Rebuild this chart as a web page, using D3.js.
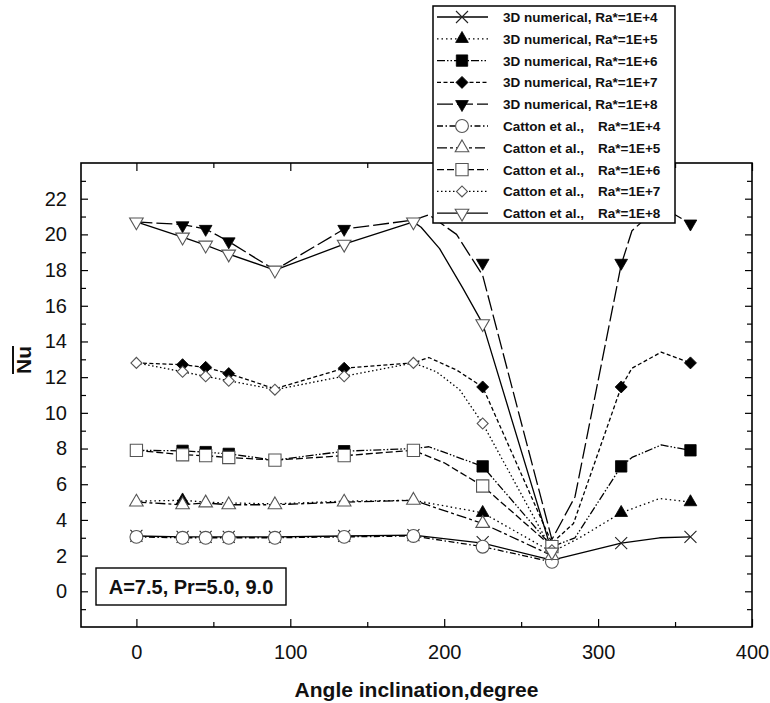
<!DOCTYPE html>
<html><head><meta charset="utf-8">
<script src="https://cdn.jsdelivr.net/npm/d3@7"></script>
<style>body{margin:0;background:#fff}svg{display:block;font-family:"Liberation Sans",Arial,sans-serif}</style>
</head><body><svg id="c" width="770" height="703"></svg>
<script>
// ---------- data ----------
const legendPrefix = ["3D numerical,","3D numerical,","3D numerical,","3D numerical,","3D numerical,",
  "Catton et al.,","Catton et al.,","Catton et al.,","Catton et al.,","Catton et al.,"];
const legendRa = ["Ra*=1E+4","Ra*=1E+5","Ra*=1E+6","Ra*=1E+7","Ra*=1E+8",
  "Ra*=1E+4","Ra*=1E+5","Ra*=1E+6","Ra*=1E+7","Ra*=1E+8"];
const xTicks = [0,100,200,300,400];
const yTicks = [0,2,4,6,8,10,12,14,16,18,20,22];

// 3D numerical lines
const num4Ang = [0,30,45,60,90,135,180,225,270,315,340,360];
const num4Nu  = [3.1,3.05,3.05,3.05,3.05,3.1,3.15,2.7,1.75,2.7,3.0,3.05];
const num5Ang = [0,30,45,60,90,135,180,225,270,288,315,340,360];
const num5Nu  = [5.05,5.1,5.0,4.95,4.9,5.05,5.1,4.4,2.2,3.0,4.4,5.2,5.0];
const num6Ang = [0,30,45,60,90,135,180,190,225,270,285,315,322,341,360];
const num6Nu  = [7.9,7.87,7.8,7.7,7.35,7.85,8.0,8.1,7.0,2.5,3.0,7.0,7.5,8.2,7.9];
const num7Ang = [0,30,45,60,90,135,180,190,208,225,270,284,315,322,341,360];
const num7Nu  = [12.8,12.7,12.55,12.2,11.35,12.5,12.8,13.1,12.4,11.45,2.7,3.8,11.45,12.5,13.4,12.8];
const num8Ang = [0,30,45,60,90,135,180,190,208,225,270,285,315,322,340,360];
const num8Nu  = [20.7,20.55,20.3,19.6,18.0,20.3,20.8,21.1,20.0,17.7,2.9,5.3,18.3,20.2,21.6,20.6];
// 3D numerical markers
const num4MkAng = [0,30,45,60,90,135,180,225,315,360];
const num4MkNu  = [3.1,3.05,3.05,3.05,3.05,3.1,3.15,2.75,2.7,3.05];
const num5MkAng = [30,225,315,360];
const num5MkNu  = [5.1,4.4,4.4,5.0];
const num6MkAng = [30,45,60,135,225,315,360];
const num6MkNu  = [7.87,7.8,7.7,7.85,7.0,7.0,7.9];
const num7MkAng = [30,45,60,135,225,315,360];
const num7MkNu  = [12.7,12.55,12.2,12.5,11.45,11.45,12.8];
const num8MkAng = [30,45,60,135,225,315,360];
const num8MkNu  = [20.5,20.3,19.6,20.3,18.4,18.4,20.6];

// Catton et al. lines
const cat4Ang = [0,30,45,60,90,135,180,225,270];
const cat4Nu  = [3.05,3.0,3.0,3.0,3.0,3.05,3.1,2.5,1.65];
const cat5Ang = [0,30,45,60,90,135,180,225,270];
const cat5Nu  = [5.0,4.85,4.95,4.85,4.85,5.0,5.1,3.8,2.0];
const cat6Ang = [0,30,45,60,90,135,180,200,225,270];
const cat6Nu  = [7.9,7.65,7.6,7.5,7.35,7.6,7.9,7.2,5.9,2.5];
const cat7Ang = [0,30,45,60,90,135,180,195,210,225,270];
const cat7Nu  = [12.8,12.3,12.05,11.8,11.3,12.05,12.8,12.3,11.3,9.4,2.3];
const cat8Ang = [0,30,45,60,90,135,180,185,197,212,225,270];
const cat8Nu  = [20.7,19.85,19.4,18.9,18.0,19.45,20.7,20.4,19.2,17.0,15.0,2.2];
// Catton markers
const catMkAng = [0,30,45,60,90,135,180,225,270];
const cat4MkNu = [3.05,3.0,3.0,3.0,3.0,3.05,3.1,2.5,1.65];
const cat5MkNu = [5.0,4.85,4.95,4.85,4.85,5.0,5.1,3.8,2.0];
const cat6MkNu = [7.9,7.65,7.6,7.5,7.35,7.6,7.9,5.9,2.5];
const cat7MkNu = [12.8,12.3,12.05,11.8,11.3,12.05,12.8,9.4,2.3];
const cat8MkNu = [20.7,19.85,19.4,18.9,18.0,19.45,20.7,15.0,2.2];

// ---------- styles ----------
const dashes = ["", "1.5,3", "8,2,1.5,2,1.5,2", "4,2.5", "16,4",
                "6,2.5,1.5,2.5", "10,3,3,3", "7,3", "1.5,2.5", ""];
const markerTypes = ["x","triUpF","squareF","diamondF","triDownF",
                     "circleO","triUpO","squareO","diamondO","triDownO"];

const series = [
  {ang:num4Ang,nu:num4Nu,mA:num4MkAng,mN:num4MkNu},
  {ang:num5Ang,nu:num5Nu,mA:num5MkAng,mN:num5MkNu},
  {ang:num6Ang,nu:num6Nu,mA:num6MkAng,mN:num6MkNu},
  {ang:num7Ang,nu:num7Nu,mA:num7MkAng,mN:num7MkNu},
  {ang:num8Ang,nu:num8Nu,mA:num8MkAng,mN:num8MkNu},
  {ang:cat4Ang,nu:cat4Nu,mA:catMkAng,mN:cat4MkNu},
  {ang:cat5Ang,nu:cat5Nu,mA:catMkAng,mN:cat5MkNu},
  {ang:cat6Ang,nu:cat6Nu,mA:catMkAng,mN:cat6MkNu},
  {ang:cat7Ang,nu:cat7Nu,mA:catMkAng,mN:cat7MkNu},
  {ang:cat8Ang,nu:cat8Nu,mA:catMkAng,mN:cat8MkNu}
];

// ---------- layout ----------
const svg = d3.select("#c");
const L = 81, R = 752, T = 163, B = 627;
const x = d3.scaleLinear().domain([-36,400]).range([L,R]);
const y = d3.scaleLinear().domain([-2,24]).range([B,T]);

// ticks (inward)
const g = svg.append("g");
function tickAxis(axisFn, scale, vals, size, pos, labels){
  const a = axisFn(scale).tickValues(vals).tickSize(-size).tickPadding(14)
    .tickFormat(labels ? d3.format("d") : "");
  const gg = g.append("g").attr("transform", pos).call(a);
  gg.select(".domain").remove();
  gg.selectAll("line").attr("stroke","#000").attr("stroke-width",1.2);
  gg.selectAll("text").attr("font-size",20).attr("fill","#111")
    .attr("font-family",'"Liberation Sans",Arial,sans-serif');
  return gg;
}
const xMinor = [50,150,250,350];
const yMinor = d3.range(-1,24,2);
tickAxis(d3.axisBottom, x, xTicks, 8, `translate(0,${B})`, true)
  .selectAll("text").attr("dy","0.71em").attr("y",18);
tickAxis(d3.axisBottom, x, xMinor, 5, `translate(0,${B})`, false);
tickAxis(d3.axisTop, x, xTicks, 8, `translate(0,${T})`, false);
tickAxis(d3.axisTop, x, xMinor, 5, `translate(0,${T})`, false);
tickAxis(d3.axisLeft, y, yTicks, 7, `translate(${L},0)`, true);
tickAxis(d3.axisLeft, y, yMinor, 5, `translate(${L},0)`, false);
tickAxis(d3.axisRight, y, yTicks, 7, `translate(${R},0)`, false);
tickAxis(d3.axisRight, y, yMinor, 5, `translate(${R},0)`, false);

svg.append("rect").attr("x",L).attr("y",T).attr("width",R-L).attr("height",B-T)
  .attr("fill","none").attr("stroke","#000").attr("stroke-width",1.6);

// axis titles
svg.append("text").attr("x",(L+R)/2).attr("y",697).attr("text-anchor","middle")
  .attr("font-size",21).attr("font-weight","bold").attr("fill","#111")
  .text("Angle inclination,degree");
const yt = svg.append("g").attr("transform","translate(31,360) rotate(-90)");
yt.append("text").attr("x",0).attr("y",0).attr("text-anchor","middle")
  .attr("font-size",21).attr("font-weight","bold").attr("fill","#111").text("Nu");
yt.append("line").attr("x1",-14).attr("x2",14).attr("y1",-18).attr("y2",-18)
  .attr("stroke","#111").attr("stroke-width",2);

// lines
const line = d3.line().x(d=>x(d[0])).y(d=>y(d[1]));
const lg = svg.append("g");
series.forEach((s,i)=>{
  const pts = s.ang.map((a,k)=>[a,s.nu[k]]);
  lg.append("path").attr("d",line(pts)).attr("fill","none").attr("stroke","#000")
    .attr("stroke-width",1.3).attr("stroke-dasharray",dashes[i]||null)
    .attr("stroke-linejoin","round");
});

// marker drawing
function drawMarker(sel, type, cx, cy, scale){
  scale = scale||1;
  const gm = sel.append("g").attr("transform",`translate(${cx},${cy})`);
  const filled = type.endsWith("F");
  const fill = filled ? "#000" : "#fff";
  const stroke = filled ? "#000" : "#555";
  const sw = filled ? 0.8 : 1.1;
  if(type==="x"){
    const r = 6*scale;
    gm.append("path").attr("d",`M${-r},${-r}L${r},${r}M${-r},${r}L${r},${-r}`)
      .attr("stroke","#222").attr("stroke-width",1.1).attr("fill","none");
    return;
  }
  let sym, rot=0, size;
  if(type.startsWith("circle")){sym=d3.symbolCircle; size=130;}
  else if(type.startsWith("square")){sym=d3.symbolSquare; size=filled?130:150;}
  else if(type.startsWith("diamond")){sym=d3.symbolSquare; size=filled?72:60; rot=45;}
  else if(type.startsWith("triUp")){sym=d3.symbolTriangle; size=filled?70:80;}
  else {sym=d3.symbolTriangle; size=filled?70:80; rot=180;}
  gm.append("path").attr("d",d3.symbol().type(sym).size(size*scale*scale)())
    .attr("transform",`rotate(${rot})`)
    .attr("fill",fill).attr("stroke",stroke).attr("stroke-width",sw);
}

const mg = svg.append("g");
series.forEach((s,i)=>{
  s.mA.forEach((a,k)=> drawMarker(mg, markerTypes[i], x(a), y(s.mN[k])));
});

// annotation box
svg.append("rect").attr("x",96).attr("y",568).attr("width",190).attr("height",37)
  .attr("fill","#fff").attr("stroke","#000").attr("stroke-width",1.4);
svg.append("text").attr("x",191).attr("y",594).attr("text-anchor","middle")
  .attr("font-size",20).attr("font-weight","bold").attr("fill","#111")
  .text("A=7.5, Pr=5.0, 9.0");

// legend
const leg = svg.append("g");
leg.append("rect").attr("x",433).attr("y",6).attr("width",242).attr("height",217)
  .attr("fill","#fff").attr("stroke","#000").attr("stroke-width",1.5);
legendPrefix.forEach((p,i)=>{
  const yy = 17 + i*21.8;
  leg.append("line").attr("x1",437).attr("x2",488).attr("y1",yy).attr("y2",yy)
    .attr("stroke","#000").attr("stroke-width",1.3).attr("stroke-dasharray",dashes[i]||null);
  drawMarker(leg, markerTypes[i], 462, yy);
  const t = leg.append("text").attr("x",503).attr("y",yy+5).attr("font-size",13.5)
    .attr("font-weight","bold").attr("fill","#111");
  if(i<5){
    t.text(p + " " + legendRa[i]);
  } else {
    t.append("tspan").text(p);
    t.append("tspan").attr("x",598).text(legendRa[i]);
  }
});
</script></body></html>
